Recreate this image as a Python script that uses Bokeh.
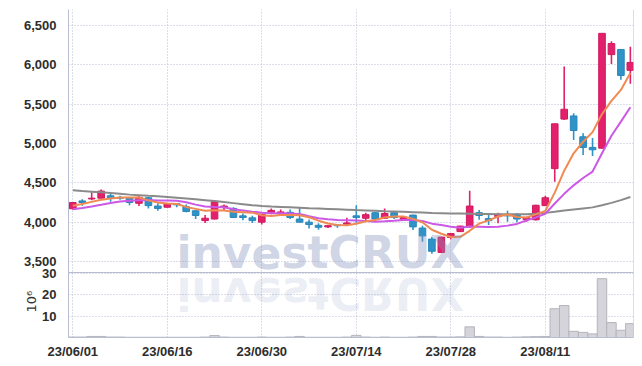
import math
from bokeh.plotting import figure
from bokeh.models import (Range1d, FixedTicker, Span, ColumnDataSource, Title)
from bokeh.core.properties import value
from bokeh.embed import file_html
from bokeh.resources import INLINE

# ---------------- data ----------------
tick_idx = [0, 10, 20, 30, 40, 50]
tick_labels = ["23/06/01", "23/06/16", "23/06/30", "23/07/14", "23/07/28", "23/08/11"]

opens = [4170, 4270, 4295, 4305, 4335, 4315, 4310, 4240, 4310, 4205,
         4190, 4235, 4195, 4145, 4020, 4040, 4185, 4175, 4080, 4055,
         4000, 4125, 4105, 4125, 4040, 4000, 3960, 3940, 3965, 3975,
         4080, 4050, 4120, 4050, 4120, 4030, 4090, 3925, 3785, 3615,
         3805, 3880, 3940, 4120, 4045, 4070, 4100, 4100, 4035, 4030,
         4210, 4680, 5310, 5350, 5085, 4950, 4940, 6130, 6195, 5930]
highs = [4255, 4290, 4380, 4415, 4365, 4335, 4320, 4340, 4320, 4240,
         4235, 4245, 4225, 4150, 4090, 4280, 4225, 4190, 4110, 4080,
         4105, 4175, 4160, 4160, 4190, 4035, 3985, 3965, 3975, 4055,
         4215, 4120, 4125, 4175, 4125, 4065, 4095, 3955, 3815, 3815,
         3860, 3955, 4400, 4155, 4090, 4120, 4145, 4115, 4070, 4220,
         4335, 5255, 5980, 5385, 5130, 5070, 6400, 6300, 6200, 6230]
lows = [4160, 4210, 4280, 4300, 4260, 4285, 4215, 4205, 4175, 4145,
        4185, 4190, 4125, 4040, 3990, 4035, 4150, 4055, 4025, 3990,
        3970, 4100, 4080, 4040, 3995, 3920, 3905, 3925, 3930, 3960,
        3970, 4025, 4030, 4040, 4040, 4025, 3900, 3750, 3600, 3610,
        3780, 3875, 3935, 4030, 3965, 3985, 4005, 4000, 4005, 4020,
        4205, 4515, 5300, 5045, 4855, 4840, 4935, 6010, 5810, 5760]
closes = [4250, 4250, 4305, 4395, 4305, 4305, 4250, 4315, 4210, 4175,
          4230, 4220, 4135, 4085, 4050, 4260, 4205, 4060, 4060, 4020,
          4100, 4150, 4130, 4060, 4000, 3970, 3935, 3955, 3955, 3990,
          4060, 4095, 4040, 4110, 4060, 4060, 3940, 3825, 3630, 3810,
          3855, 3950, 4205, 4085, 4020, 4100, 4080, 4040, 4060, 4215,
          4310, 5250, 5435, 5165, 4950, 4920, 6400, 6270, 5865, 6030]

ma_short = [4210, 4230, 4258, 4285, 4301, 4312, 4312, 4314, 4277, 4251,
            4236, 4230, 4194, 4169, 4144, 4150, 4147, 4132, 4127, 4121,
            4089, 4078, 4092, 4092, 4088, 4062, 4019, 3984, 3963, 3961,
            3979, 4011, 4028, 4059, 4073, 4073, 4042, 3999, 3903, 3853,
            3812, 3814, 3890, 3981, 4023, 4072, 4098, 4065, 4060, 4099,
            4141, 4375, 4654, 4875, 5022, 5144, 5374, 5541, 5681, 5897]
ma_mid = [4165, 4180, 4198, 4220, 4243, 4262, 4273, 4280, 4281, 4276,
          4274, 4271, 4254, 4223, 4198, 4193, 4189, 4163, 4148, 4133,
          4120, 4113, 4112, 4110, 4105, 4076, 4049, 4038, 4028, 4025,
          4021, 4015, 4006, 4011, 4017, 4026, 4027, 4014, 3981, 3963,
          3943, 3928, 3945, 3942, 3938, 3942, 3956, 3978, 4021, 4061,
          4107, 4237, 4360, 4468, 4561, 4643, 4875, 5098, 5278, 5460]
ma_long = [4405, 4396, 4388, 4379, 4370, 4360, 4350, 4343, 4335, 4328,
           4320, 4310, 4300, 4290, 4280, 4268, 4255, 4242, 4229, 4216,
           4205, 4199, 4194, 4189, 4184, 4178, 4173, 4168, 4163, 4158,
           4153, 4149, 4145, 4140, 4136, 4132, 4127, 4122, 4117, 4114,
           4111, 4109, 4107, 4105, 4103, 4101, 4100, 4100, 4101, 4108,
           4118, 4132, 4148, 4162, 4175, 4188, 4215, 4245, 4280, 4320]

volumes = [0.2, 0.2, 0.5, 0.5, 0.2, 0.2, 0.1, 0.1, 0.1, 0.1,
           0.1, 0.1, 0.1, 0.1, 0.2, 0.9, 0.2, 0.1, 0.1, 0.1,
           0.2, 0.1, 0.1, 0.2, 0.5, 0.1, 0.1, 0.1, 0.1, 0.2,
           1.0, 0.2, 0.1, 0.2, 0.1, 0.1, 0.2, 0.5, 0.5, 0.2,
           0.2, 0.3, 5.0, 0.5, 0.2, 0.2, 0.1, 0.2, 0.3, 0.4,
           0.5, 13.5, 15.0, 2.9, 2.4, 1.7, 27.6, 7.0, 3.4, 6.5]

price_ticks = [3500, 4000, 4500, 5000, 5500, 6000, 6500]
vol_ticks = [10, 20, 30]

# ---------------- styling ----------------
RED, RED_L = "#e3206b", "#d01a60"
BLUE, BLUE_L = "#2f93c8", "#2a86ba"
GRID = "#b9bdd4"
AXIS = "#b9bdd0"
LABEL_FONT = "Liberation Sans"
LABEL_SIZE = "13px"
LABEL_COLOR = "#2d2d2d"

idx = list(range(len(opens)))
up = [c >= o for o, c in zip(opens, closes)]
src = ColumnDataSource(dict(
    x=idx, h=highs, l=lows,
    top=[max(o, c) for o, c in zip(opens, closes)],
    bot=[min(o, c) for o, c in zip(opens, closes)],
    fill=[RED if u else BLUE for u in up],
    line=[RED_L if u else BLUE_L for u in up],
))

# frame geometry (px)
FRAME_L, FRAME_W = 68, 565
X0 = -0.455
X1 = X0 + FRAME_W / 9.45
Y0, Y1 = 2534, 6703          # price range over full frame (volume pane at bottom)
V0, V1 = 0, 153.9            # volume range over full frame (0..30.5 in bottom pane)
SEP_PRICE = 3360             # price level of the pane separator

p = figure(width=642, height=366, x_range=Range1d(X0, X1), y_range=Range1d(Y0, Y1),
           output_backend="svg", toolbar_location=None,
           min_border_left=68, min_border_right=9, min_border_top=9, min_border_bottom=29)
p.extra_y_ranges = {"vol": Range1d(V0, V1)}
p.outline_line_color = None
p.background_fill_color = "white"

def vol_to_price(vv):
    return round(Y0 + (vv - V0) / (V1 - V0) * (Y1 - Y0), 2)

vol_tick_pos = [vol_to_price(t) for t in vol_ticks]
all_yticks = price_ticks + vol_tick_pos
overrides = {t: f"{t:,}" for t in price_ticks}
overrides.update({pos: str(t) for pos, t in zip(vol_tick_pos, vol_ticks)})

for g in (p.xgrid, p.ygrid):
    g.grid_line_color = GRID
    g.grid_line_dash = "1 2"
    g.grid_line_width = 1
p.xgrid.ticker = FixedTicker(ticks=tick_idx)
p.ygrid.ticker = FixedTicker(ticks=all_yticks)

ya = p.yaxis[0]
ya.ticker = FixedTicker(ticks=all_yticks)
ya.major_label_overrides = overrides
ya.major_tick_line_color = None
ya.minor_tick_line_color = None
ya.axis_line_color = AXIS
ya.major_label_standoff = 6

xa = p.xaxis[0]
xa.ticker = FixedTicker(ticks=tick_idx)
xa.major_label_overrides = {t: l for t, l in zip(tick_idx, tick_labels)}
xa.major_tick_line_color = None
xa.minor_tick_line_color = None
xa.axis_line_color = AXIS
xa.major_label_standoff = 0

for ax in (ya, xa):
    ax.major_label_text_font = LABEL_FONT
    ax.major_label_text_font_style = "bold"
    ax.major_label_text_font_size = LABEL_SIZE
    ax.major_label_text_color = LABEL_COLOR

p.add_layout(Span(location=X1, dimension="height", line_color=AXIS, line_width=1))
p.add_layout(Span(location=SEP_PRICE, dimension="width", line_color=AXIS, line_width=1))

# watermark letters (DejaVu Sans Bold advances), plus vertical reflection
letters = list("investCRUX")
mirror = ["i", "n", "v", "\u0258", "\u01a8", "t", "\u0186", "\u042f", "U", "X"]
adv = [0.343, 0.712, 0.652, 0.678, 0.595, 0.478, 0.734, 0.770, 0.812, 0.774]
fs = 44
total = sum(adv) * fs
start_px = 320 - total / 2
sx = FRAME_W / (X1 - X0)
wx, acc = [], 0.0
for a in adv:
    cpx = start_px + acc + a * fs / 2
    wx.append(X0 + (cpx - FRAME_L) / sx)
    acc += a * fs

p.text(x=wx, y=[20.6] * len(wx), text=mirror, angle=math.pi, y_range_name="vol",
       text_font=value("DejaVu Sans"), text_font_style="bold", text_font_size=f"{fs}px",
       text_color="#8293bb", text_alpha=0.17, text_align="center", text_baseline="alphabetic")

# volume bars
p.vbar(x=idx, width=1.0, top=volumes, bottom=0, y_range_name="vol",
       fill_color="#d4d4da", line_color="#b4b4bc", line_width=1)

# candles
p.segment(x0="x", y0="l", x1="x", y1="h", source=src, line_color="fill", line_width=1.6)
p.vbar(x="x", width=0.7, top="top", bottom="bot", source=src,
       fill_color="fill", line_color="line", line_width=1)

# moving averages
p.line(idx, ma_long, line_color="#8a8a8a", line_width=2)
p.line(idx, ma_mid, line_color="#cc58e6", line_width=2)
p.line(idx, ma_short, line_color="#f08a52", line_width=2)

p.text(x=wx, y=[3614] * len(wx), text=letters, text_font=value("DejaVu Sans"),
       text_font_style="bold", text_font_size=f"{fs}px", text_color="#8293bb",
       text_alpha=0.4, text_align="center", text_baseline="alphabetic")

# volume unit label (left-side title, placed beside the volume pane)
p.add_layout(Title(text="10\u2076", align="left", offset=25, standoff=-36,
                   text_font="DejaVu Sans", text_font_size="13px",
                   text_font_style="normal", text_color="#333333"), "left")

open("out.html", "w").write(file_html(p, INLINE))
